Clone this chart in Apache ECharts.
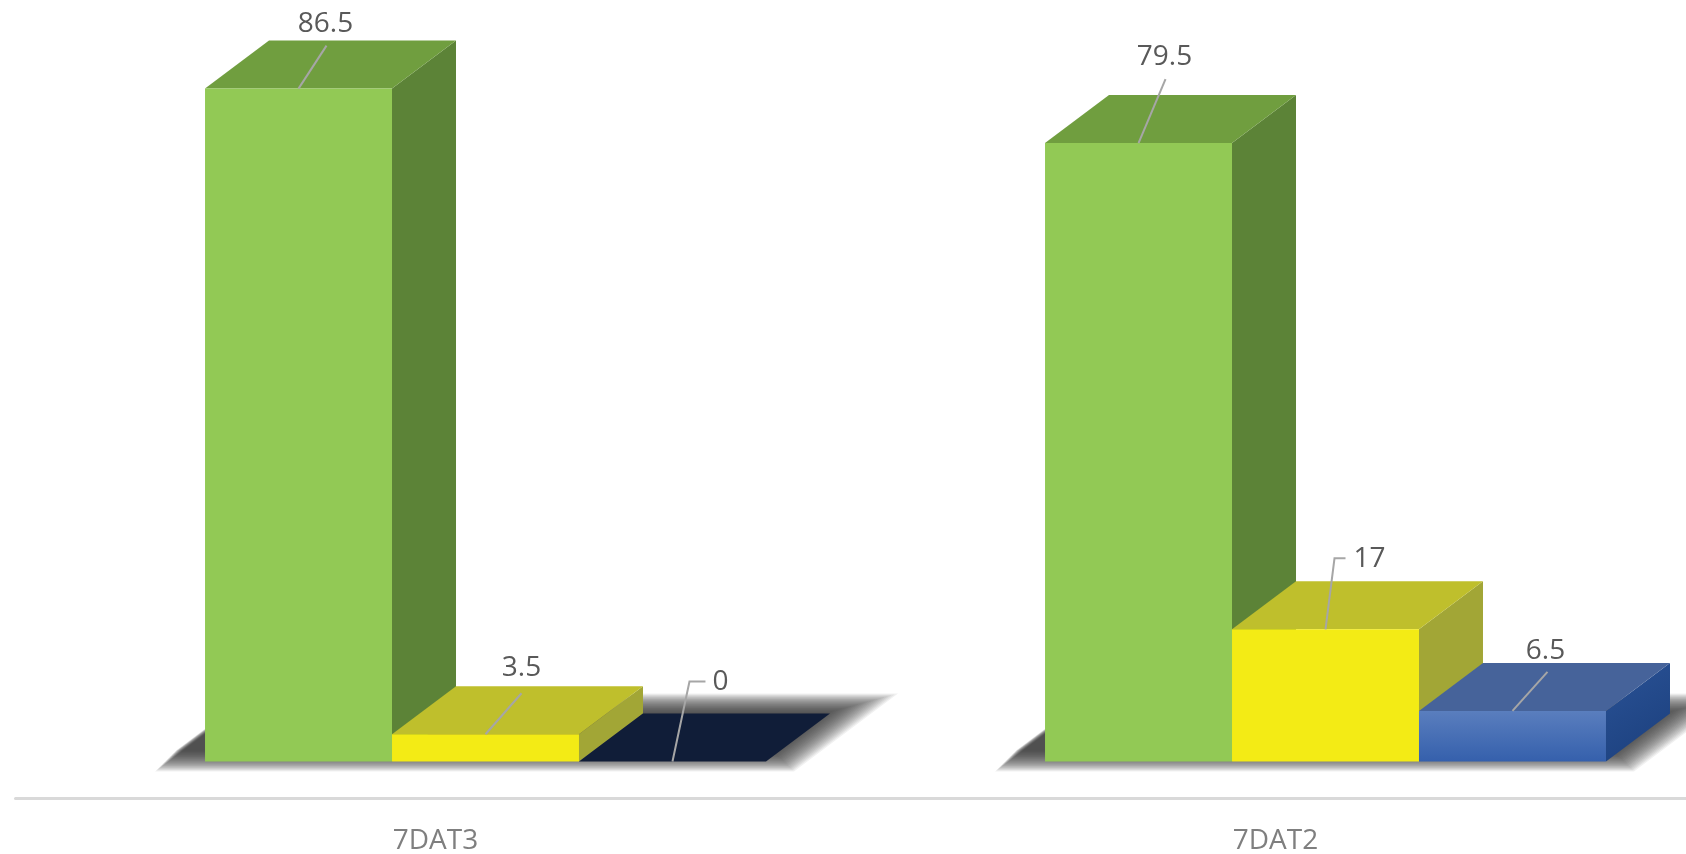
<!DOCTYPE html>
<html>
<head>
<meta charset="utf-8">
<title>7DAT</title>
<style>
  html, body { margin: 0; padding: 0; background: #fff; }
  #chart { width: 1686px; height: 854px; }
</style>
<script src="https://cdn.jsdelivr.net/npm/echarts@6/dist/echarts.min.js"></script>
</head>
<body>
<div id="chart"></div>
<script>
const categories = ['7DAT3', '7DAT2']
const greenValues = [86.5, 79.5]
const yellowValues = [3.5, 17]
const blueValues = [0, 6.5]

// leader line bends and label anchor, relative to the middle of the bar's front top edge
const greenLeaders = [
  { line: [[28, -43]], text: [27, -65] },
  { line: [[27, -64]], text: [26, -86] }
]
const yellowLeaders = [
  { line: [[36, -41]], text: [36, -66] },
  { line: [[9, -71], [20, -71]], text: [44, -70] }
]
const blueLeaders = [
  { line: [[17, -80], [33, -80]], text: [48, -79] },
  { line: [[35, -39]], text: [33, -60] }
]

const barRatio = 0.2226   // bar width as a part of the category band
const groupShift = 50     // the bars sit right of the category label
const depthX = 64
const depthY = 48

const greenColors = { front: '#92C955', top: '#709E3F', side: '#5C8337' }
const yellowColors = { front: '#F3EB15', top: '#BFBF2C', side: '#A2A636' }
const blueColors = {
  front: vGrad('#5A7EBE', '#3560AC'),
  top: '#46639A',
  side: hGrad('#2A5296', '#1B3F7C'),
  floor: '#101D38'
}

function vGrad(a, b) {
  return new echarts.graphic.LinearGradient(0, 0, 0, 1, [{ offset: 0, color: a }, { offset: 1, color: b }])
}
function hGrad(a, b) {
  return new echarts.graphic.LinearGradient(0, 0, 1, 1, [{ offset: 0, color: a }, { offset: 1, color: b }])
}

function poly(points, fill, z2) {
  return { type: 'polygon', shape: { points: points }, style: { fill: fill }, z2: z2 }
}

// one 3D bar: front, top and side faces plus its leader line and label
function barItem(slot, colors, leaders) {
  return function (params, api) {
    const cat = api.value(0)
    const value = api.value(1)
    const band = api.size([1, 0])[0]
    const w = band * barRatio
    const center = api.coord([cat, 0])[0] + groupShift
    const x0 = center - 1.5 * w + slot * w
    const x1 = x0 + w
    const base = api.coord([cat, 0])[1]
    const y = api.coord([cat, value])[1]
    const children = []

    if (value === 0) {
      children.push(poly([[x0, base], [x1, base], [x1 + depthX, base - depthY], [x0 + depthX, base - depthY]], colors.floor, 1))
    } else {
      children.push(poly([[x1, y], [x1 + depthX, y - depthY], [x1 + depthX, base - depthY], [x1, base]], colors.side, 1))
      children.push(poly([[x0, y], [x1, y], [x1 + depthX, y - depthY], [x0 + depthX, y - depthY]], colors.top, 1))
      children.push(poly([[x0, y], [x1, y], [x1, base], [x0, base]], colors.front, 2))
    }

    const mid = (x0 + x1) / 2
    const lead = leaders[cat]
    const pts = [[mid, y]].concat(lead.line.map(function (p) { return [mid + p[0], y + p[1]] }))
    children.push({
      type: 'polyline',
      shape: { points: pts },
      style: { stroke: '#A6A6A6', lineWidth: 2, fill: 'none' },
      z2: 5
    })
    children.push({
      type: 'text',
      style: {
        text: String(value),
        x: mid + lead.text[0],
        y: y + lead.text[1],
        align: 'center',
        verticalAlign: 'middle',
        fill: '#595959',
        font: '28px "Open Sans"'
      },
      z2: 6
    })
    return { type: 'group', children: children }
  }
}

// soft floor shadow under a whole group of bars, built from stacked faint layers
function shadowItem(params, api) {
  const cat = api.value(0)
  const band = api.size([1, 0])[0]
  const w = band * barRatio
  const center = api.coord([cat, 0])[0] + groupShift
  const left = center - 1.5 * w - 50
  const right = center + 1.5 * w + 28
  const base = api.coord([cat, 0])[1]
  const bottom = base + 10
  const top = base - 68
  const layers = []
  for (let i = 0; i < 24; i++) {
    const inset = i * 0.9
    const l = left + inset
    const r = right - inset
    const b = bottom - inset
    const t = top + inset
    const skew = (b - t) * depthX / depthY
    layers.push(poly([[l, b], [r, b], [r + skew, t], [l + skew, t]], 'rgba(40,40,40,0.065)', i))
  }
  return { type: 'group', children: layers }
}

function catData(values) {
  return values.map(function (v, i) { return [i, v] })
}

const chart = echarts.init(document.getElementById('chart'))
chart.setOption({
  backgroundColor: '#fff',
  animation: false,
  grid: { left: 15.5, width: 1680, top: 22.5, bottom: 92.5, outerBoundsMode: 'none' },
  xAxis: {
    type: 'category',
    data: categories,
    offset: 37,
    axisTick: { show: false },
    axisLine: { onZero: false, lineStyle: { color: '#D9D9D9', width: 3 } },
    axisLabel: {
      color: '#7F7F7F',
      fontFamily: 'Open Sans',
      fontSize: 28,
      margin: 29
    }
  },
  yAxis: { type: 'value', min: 0, max: 95, show: false },
  series: [
    { type: 'custom', data: catData(greenValues.map(function () { return 0 })), renderItem: shadowItem, z: 1, silent: true },
    { type: 'custom', name: 'green', data: catData(greenValues), encode: { x: 0, y: 1 }, renderItem: barItem(0, greenColors, greenLeaders), z: 2 },
    { type: 'custom', name: 'yellow', data: catData(yellowValues), encode: { x: 0, y: 1 }, renderItem: barItem(1, yellowColors, yellowLeaders), z: 3 },
    { type: 'custom', name: 'blue', data: catData(blueValues), encode: { x: 0, y: 1 }, renderItem: barItem(2, blueColors, blueLeaders), z: 4 }
  ]
})
</script>
</body>
</html>
